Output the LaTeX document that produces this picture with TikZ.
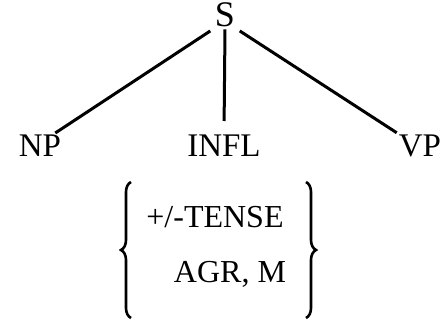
\documentclass[tikz,border=0pt]{standalone}
\usepackage{fontspec}
\setmainfont{Liberation Serif}
\usetikzlibrary{positioning}
\usetikzlibrary{decorations.pathreplacing}
\tikzset{cat/.style = {font=\fontsize{33}{38}\selectfont, inner sep=2pt}}
\tikzset{feat/.style = {font=\fontsize{32}{36}\selectfont, inner sep=0pt}}
\tikzset{branch/.style = {line width=3pt}}
\tikzset{curly/.style = {decorate, decoration={brace, amplitude=10pt},
                         line width=2.6pt}}

\begin{document}
\begin{tikzpicture}[x=1pt,y=-1pt]
      \useasboundingbox (0,0) rectangle (445,327);
      \node[cat,font=\fontsize{36}{40}\selectfont] (S) at (225,15) {S};
      \node[cat] (NP) at (40,146) {NP};
      \node[cat] (INFL) at (224,146) {INFL};
      \node[cat] (VP) at (420,146) {VP};
      \draw[branch,shorten <=3pt] (S.south west) -- ([xshift=-8pt]NP.north east);
      \draw[branch,shorten >=12pt] (S.south) -- (INFL.north);
      \draw[branch,shorten <=3pt] (S.south east) -- (VP.north west);
      \node[feat] (tense) at (215,217) {+/-TENSE};
      \node[feat] (agr) at (230,274) {AGR, M};
      \coordinate (lb1) at (131,318);
      \coordinate (lb2) at (131,182);
      \coordinate (rb1) at (306,182);
      \coordinate (rb2) at (306,318);
      \draw[curly] (lb1) -- (lb2);
      \draw[curly] (rb1) -- (rb2);
    \end{tikzpicture}
\end{document}
